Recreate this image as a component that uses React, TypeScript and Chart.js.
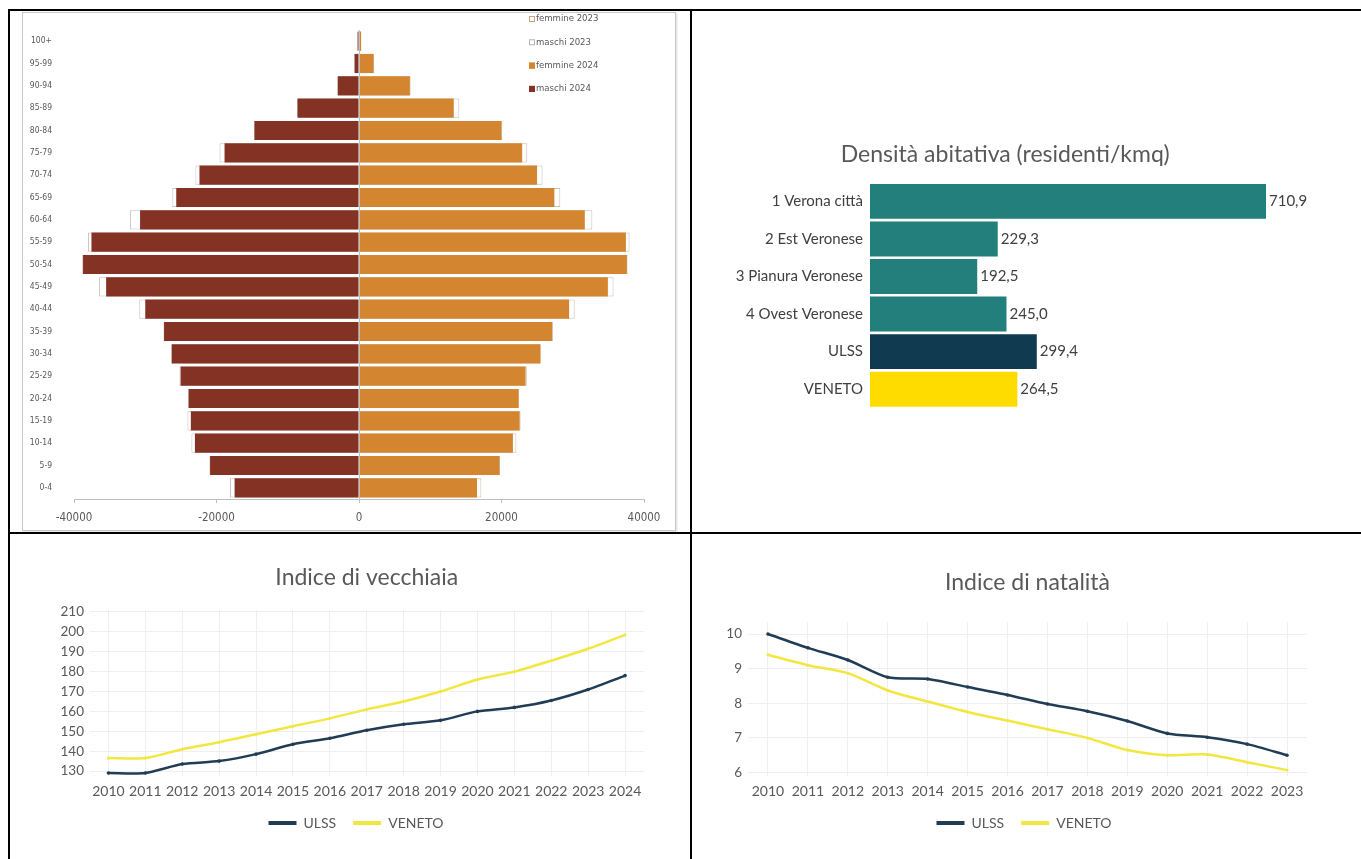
import React, { useEffect, useRef } from 'react';
import { Chart, registerables } from 'chart.js';

Chart.register(...registerables);
Chart.defaults.font.family = 'Lato, "Open Sans", sans-serif';

// ---------- DATA ----------
const ageGroups = ['100+', '95-99', '90-94', '85-89', '80-84', '75-79', '70-74', '65-69', '60-64', '55-59', '50-54', '45-49', '40-44', '35-39', '30-34', '25-29', '20-24', '15-19', '10-14', '5-9', '0-4'];
const maschi2024 = [-200, -620, -2960, -8620, -14680, -18870, -22390, -25650, -30730, -37550, -38730, -35490, -30000, -27360, -26280, -25040, -23910, -23600, -23030, -20900, -17460];
const maschi2023 = [-180, -650, -3100, -8700, -14700, -19580, -22960, -26200, -32150, -38030, -38850, -36480, -30840, -27450, -26350, -25200, -23980, -24080, -23520, -21000, -18110];
const femmine2024 = [300, 2040, 7140, 13300, 20000, 22900, 24990, 27420, 31690, 37460, 37600, 34930, 29490, 27120, 25460, 23380, 22390, 22550, 21600, 19720, 16560];
const femmine2023 = [280, 2100, 7250, 14080, 20100, 23620, 25760, 28250, 32750, 37970, 37700, 35720, 30270, 27200, 25500, 23550, 22450, 22680, 22090, 19800, 17170];
const pyramidLegendLabels = ['femmine 2023', 'maschi 2023', 'femmine 2024', 'maschi 2024'];
const pyramidTicks = [-40000, -20000, 0, 20000, 40000];

const districts = ['1 Verona città', '2 Est Veronese', '3 Pianura Veronese', '4 Ovest Veronese', 'ULSS', 'VENETO'];
const density = [710.9, 229.3, 192.5, 245.0, 299.4, 264.5];
const densityTitle = 'Densità abitativa (residenti/kmq)';

const yearsVecchiaia = ['2010', '2011', '2012', '2013', '2014', '2015', '2016', '2017', '2018', '2019', '2020', '2021', '2022', '2023', '2024'];
const ulssVecchiaia = [129, 129, 133.5, 135, 138.5, 143.5, 146.5, 150.5, 153.5, 155.5, 160, 162, 165.5, 171, 178];
const venetoVecchiaia = [136.5, 136.5, 141, 144.5, 148.5, 152.5, 156.5, 161, 165, 170, 176, 180, 185.5, 191.5, 198.5];
const vecchiaiaTicks = [130, 140, 150, 160, 170, 180, 190, 200, 210];

const yearsNatalita = ['2010', '2011', '2012', '2013', '2014', '2015', '2016', '2017', '2018', '2019', '2020', '2021', '2022', '2023'];
const ulssNatalita = [10.0, 9.6, 9.25, 8.75, 8.7, 8.47, 8.24, 7.98, 7.77, 7.49, 7.13, 7.02, 6.82, 6.5];
const venetoNatalita = [9.4, 9.1, 8.87, 8.37, 8.05, 7.75, 7.5, 7.25, 7.0, 6.65, 6.5, 6.52, 6.3, 6.07];
const natalitaTicks = [6, 7, 8, 9, 10];

// ---------- STYLE ----------
const MALE = '#843223';
const FEMALE = '#d4852f';
const TEAL = '#237f7b';
const NAVY = '#0f3a50';
const YELLOW = '#ffdc00';
const LINE_NAVY = '#213c55';
const LINE_YELLOW = '#f2e640';
const GREY_TEXT = '#595959';
const NARROW = '"Liberation Sans Narrow", "DejaVu Sans Condensed", sans-serif';

function ChartCanvas({ left, top, width, height, make }) {
  const ref = useRef(null);
  useEffect(() => {
    const chart = new Chart(ref.current, make());
    return () => chart.destroy();
  }, []);
  return (
    <canvas
      ref={ref}
      width={width}
      height={height}
      style={{ position: 'absolute', left, top, width, height }}
    />
  );
}

const pyramidExtras = {
  id: 'pyramidExtras',
  afterDatasetsDraw(chart) {
    const { ctx, chartArea, scales } = chart;
    const x0 = Math.round(scales.x.getPixelForValue(0)) + 0.5;
    ctx.save();
    ctx.strokeStyle = '#bfbfbf';
    ctx.lineWidth = 1;
    ctx.beginPath();
    ctx.moveTo(x0, chartArea.top);
    ctx.lineTo(x0, chartArea.bottom);
    ctx.stroke();
    const styles = [
      { fill: '#ffffff', stroke: '#c9a27d' },
      { fill: '#ffffff', stroke: '#b5b5b5' },
      { fill: FEMALE, stroke: FEMALE },
      { fill: MALE, stroke: MALE },
    ];
    ctx.font = '9.5px ' + NARROW;
    ctx.textBaseline = 'middle';
    ctx.textAlign = 'left';
    pyramidLegendLabels.forEach((label, i) => {
      const y = 6 + i * 23.3;
      ctx.fillStyle = styles[i].fill;
      ctx.fillRect(506, y - 3, 6, 6);
      ctx.strokeStyle = styles[i].stroke;
      ctx.strokeRect(506.5, y - 2.5, 5, 5);
      ctx.fillStyle = GREY_TEXT;
      ctx.fillText(label, 513, y);
    });
    ctx.restore();
  },
};

function makePyramid() {
  const common = { barPercentage: 0.86, categoryPercentage: 1, grouped: false };
  return {
    type: 'bar',
    data: {
      labels: ageGroups,
      datasets: [
        { label: 'femmine 2023', data: femmine2023, backgroundColor: '#ffffff', borderColor: '#c8bfb6', borderWidth: 1, borderSkipped: false, order: 2, ...common },
        { label: 'maschi 2023', data: maschi2023, backgroundColor: '#ffffff', borderColor: '#c8c2bd', borderWidth: 1, borderSkipped: false, order: 2, ...common },
        { label: 'femmine 2024', data: femmine2024, backgroundColor: FEMALE, order: 1, ...common },
        { label: 'maschi 2024', data: maschi2024, backgroundColor: MALE, order: 1, ...common },
      ],
    },
    options: {
      indexAxis: 'y',
      animation: false,
      responsive: false,
      events: [],
      layout: { padding: { top: 17, right: 31, left: 0, bottom: 0 } },
      plugins: { legend: { display: false }, tooltip: { enabled: false } },
      scales: {
        x: {
          min: -40000,
          max: 40000,
          afterBuildTicks: (s) => { s.ticks = pyramidTicks.map((v) => ({ value: v })); },
          afterFit: (s) => { s.height = 31; s.paddingLeft = 0; s.paddingRight = 0; },
          border: { display: true, color: '#bfbfbf' },
          grid: { drawOnChartArea: false, drawTicks: true, tickLength: 4, tickColor: '#bfbfbf' },
          ticks: { font: { size: 11.5, family: NARROW }, color: GREY_TEXT, padding: 8, maxRotation: 0, callback: (v) => String(v) },
        },
        y: {
          afterFit: (s) => { s.width = 51; s.paddingTop = 0; s.paddingBottom = 0; },
          border: { display: false },
          grid: { display: false, drawTicks: false },
          ticks: { font: { size: 8.5, family: NARROW }, color: GREY_TEXT, padding: 22, autoSkip: false },
        },
      },
    },
    plugins: [pyramidExtras],
  };
}

const barValueLabels = {
  id: 'barValueLabels',
  afterDatasetsDraw(chart) {
    const { ctx } = chart;
    const meta = chart.getDatasetMeta(0);
    ctx.save();
    ctx.font = '15px Lato, sans-serif';
    ctx.fillStyle = '#404040';
    ctx.textAlign = 'left';
    ctx.textBaseline = 'middle';
    meta.data.forEach((bar, i) => {
      const v = chart.data.datasets[0].data[i];
      ctx.fillText(v.toFixed(1).replace('.', ','), bar.x + 3, bar.y);
    });
    ctx.restore();
  },
};

function makeDensity() {
  return {
    type: 'bar',
    data: {
      labels: districts,
      datasets: [
        {
          data: density,
          backgroundColor: [TEAL, TEAL, TEAL, TEAL, NAVY, YELLOW],
          barPercentage: 0.93,
          categoryPercentage: 1,
        },
      ],
    },
    options: {
      indexAxis: 'y',
      animation: false,
      responsive: false,
      events: [],
      layout: { padding: { top: 0, right: 15.5, left: 16, bottom: 12 } },
      plugins: {
        legend: { display: false },
        tooltip: { enabled: false },
        title: {
          display: true,
          text: densityTitle,
          font: { size: 23, weight: 'normal', family: 'Lato, sans-serif' },
          color: GREY_TEXT,
          padding: { top: 11, bottom: 14 },
        },
      },
      scales: {
        x: { display: false, min: 0, max: 780 },
        y: {
          afterFit: (s) => { s.width = 164; s.paddingTop = 0; s.paddingBottom = 0; },
          border: { display: false },
          grid: { display: false, drawTicks: false },
          ticks: { font: { size: 15 }, color: '#404040', padding: 7, autoSkip: false },
        },
      },
    },
    plugins: [barValueLabels],
  };
}

function makeLegendPlugin(centerX, centerY) {
  return {
    id: 'lineLegend',
    afterDraw(chart) {
      const { ctx } = chart;
      const ds = chart.data.datasets;
      ctx.save();
      ctx.font = '14px Lato, sans-serif';
      ctx.textBaseline = 'middle';
      ctx.textAlign = 'left';
      const boxW = 28, gapText = 7, gapItem = 17;
      const widths = ds.map((d) => boxW + gapText + ctx.measureText(d.label).width);
      const total = widths.reduce((a, b) => a + b, 0) + gapItem * (ds.length - 1);
      let x = centerX - total / 2;
      ds.forEach((d, i) => {
        ctx.fillStyle = d.borderColor;
        ctx.fillRect(x, centerY - 2, boxW, 4);
        ctx.fillStyle = GREY_TEXT;
        ctx.fillText(d.label, x + boxW + gapText, centerY);
        x += widths[i] + gapItem;
      });
      ctx.restore();
    },
  };
}

function makeLine({ title, labels, ulss, veneto, ticks, min, max, yWidth, rightPad, titlePad, legendX, legendY }) {
  return {
    type: 'line',
    data: {
      labels,
      datasets: [
        { label: 'ULSS', data: ulss, borderColor: LINE_NAVY, backgroundColor: LINE_NAVY, borderWidth: 2.5, pointRadius: 1.8, pointBackgroundColor: LINE_NAVY, pointBorderWidth: 0, tension: 0.25 },
        { label: 'VENETO', data: veneto, borderColor: LINE_YELLOW, backgroundColor: LINE_YELLOW, borderWidth: 2.5, pointRadius: 1.5, pointBackgroundColor: LINE_YELLOW, pointBorderWidth: 0, tension: 0.25 },
      ],
    },
    options: {
      animation: false,
      responsive: false,
      events: [],
      layout: { padding: { top: 0, right: rightPad, left: 0, bottom: 33 } },
      plugins: {
        tooltip: { enabled: false },
        legend: { display: false },
        title: {
          display: true,
          text: title,
          fullSize: false,
          font: { size: 23, weight: 'normal', family: 'Lato, sans-serif' },
          color: GREY_TEXT,
          padding: titlePad,
        },
      },
      scales: {
        x: {
          offset: true,
          afterFit: (s) => { s.height = 31; },
          border: { display: false },
          grid: { offset: false, color: '#efefef', drawTicks: false },
          ticks: { font: { size: 14 }, color: GREY_TEXT, padding: 7, maxRotation: 0, autoSkip: false },
        },
        y: {
          min,
          max,
          afterBuildTicks: (s) => { s.ticks = ticks.map((v) => ({ value: v })); },
          afterFit: (s) => { s.width = yWidth; },
          border: { display: false },
          grid: { color: '#efefef', drawTicks: false },
          ticks: { font: { size: 13.5 }, color: GREY_TEXT, padding: 6 },
        },
      },
    },
    plugins: [makeLegendPlugin(legendX, legendY)],
  };
}

const lineStyle = (o) => ({ position: 'absolute', background: '#000', ...o });

export default function App() {
  return (
    <div style={{ position: 'absolute', left: 0, top: 0, width: 1361, height: 859, overflow: 'hidden', background: '#fff' }}>
      {/* table grid */}
      <div style={lineStyle({ left: 8, top: 9, width: 1353, height: 2 })} />
      <div style={lineStyle({ left: 8, top: 9, width: 2, height: 850 })} />
      <div style={lineStyle({ left: 690, top: 9, width: 2, height: 850 })} />
      <div style={lineStyle({ left: 8, top: 532, width: 1353, height: 2 })} />

      {/* pyramid frame */}
      <div style={{ position: 'absolute', left: 22, top: 12, width: 652, height: 517, border: '1px solid #c8c8c8', boxShadow: '1px 1px 2px rgba(0,0,0,0.15)' }} />
      <ChartCanvas left={23} top={13} width={652} height={517} make={makePyramid} />

      <ChartCanvas left={690} top={130} width={630} height={290} make={makeDensity} />

      <ChartCanvas
        left={20}
        top={555}
        width={660}
        height={285}
        make={() => makeLine({ title: 'Indice di vecchiaia', labels: yearsVecchiaia, ulss: ulssVecchiaia, veneto: venetoVecchiaia, ticks: vecchiaiaTicks, min: 127.5, max: 211, yWidth: 70, rightPad: 36.5, titlePad: { top: 9.2, bottom: 18.2 }, legendX: 336, legendY: 268 })}
      />
      <ChartCanvas
        left={700}
        top={555}
        width={650}
        height={285}
        make={() => makeLine({ title: 'Indice di natalità', labels: yearsNatalita, ulss: ulssNatalita, veneto: venetoNatalita, ticks: natalitaTicks, min: 5.9, max: 10.35, yWidth: 48, rightPad: 43, titlePad: { top: 14.2, bottom: 25.1 }, legendX: 324, legendY: 268 })}
      />
    </div>
  );
}
